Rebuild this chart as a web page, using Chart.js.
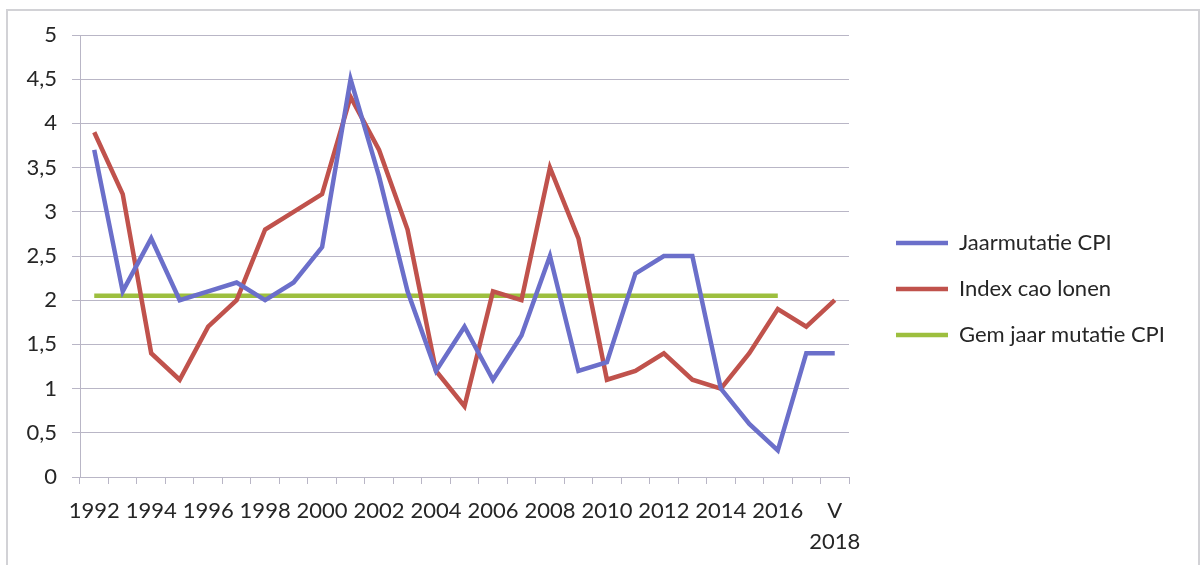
<!DOCTYPE html>
<html>
<head>
<meta charset="utf-8">
<script src="https://cdn.jsdelivr.net/npm/chart.js@4.4.1/dist/chart.umd.min.js"></script>
<style>
  html, body { margin: 0; padding: 0; background: #fff; }
  #wrap { position: relative; width: 1201px; height: 565px; overflow: hidden; }
  #frame { position: absolute; left: 6px; top: 9px; width: 1190px; height: 600px; border: 2px solid #d2d2d6; pointer-events: none; }
  canvas { position: absolute; left: 0; top: 0; }
</style>
</head>
<body>
<div id="wrap">
  <canvas id="cpiChart" width="1201" height="565"></canvas>
  <div id="frame"></div>
</div>
<script>
const years = [
  "1992", "1993", "1994", "1995", "1996", "1997", "1998", "1999", "2000",
  "2001", "2002", "2003", "2004", "2005", "2006", "2007", "2008", "2009",
  "2010", "2011", "2012", "2013", "2014", "2015", "2016", "2017", ["V", "2018"],
];

const jaarmutatieCpi = [
  3.7, 2.1, 2.7, 2.0, 2.1, 2.2, 2.0, 2.2, 2.6,
  4.5, 3.4, 2.1, 1.2, 1.7, 1.1, 1.6, 2.5, 1.2,
  1.3, 2.3, 2.5, 2.5, 1.0, 0.6, 0.3, 1.4, 1.4,
];

const indexCaoLonen = [
  3.9, 3.2, 1.4, 1.1, 1.7, 2.0, 2.8, 3.0, 3.2,
  4.3, 3.7, 2.8, 1.2, 0.8, 2.1, 2.0, 3.5, 2.7,
  1.1, 1.2, 1.4, 1.1, 1.0, 1.4, 1.9, 1.7, 2.0,
];

// average line only runs up to 2016
const gemJaarMutatieCpi = [
  2.05, 2.05, 2.05, 2.05, 2.05, 2.05, 2.05, 2.05, 2.05,
  2.05, 2.05, 2.05, 2.05, 2.05, 2.05, 2.05, 2.05, 2.05,
  2.05, 2.05, 2.05, 2.05, 2.05, 2.05, 2.05, null, null,
];

const yTicks = [0, 0.5, 1, 1.5, 2, 2.5, 3, 3.5, 4, 4.5, 5];

const fontName = "Lato, 'Open Sans', sans-serif";
const gridColor = "#b9b6c6";
const textColor = "#262626";

// put the legend a bit away from the plot, like the original
const legendShift = {
  id: "legendShift",
  afterLayout(chart) {
    const lg = chart.legend;
    lg.left = chart.chartArea.right + 23;
    lg.right = chart.width - 4;
    lg.width = lg.right - lg.left;
    lg.top -= 11;
    lg.bottom -= 11;
  },
};

const lineDataset = (label, data, color) => ({
  label: label,
  data: data,
  borderColor: color,
  backgroundColor: color,
  borderWidth: 4.5,
  pointRadius: 0,
  tension: 0,
  spanGaps: false,
});

const ctx = document.getElementById("cpiChart").getContext("2d");
const cpiChart = new Chart(ctx, {
  type: "line",
  data: {
    labels: years,
    datasets: [
      lineDataset("Jaarmutatie CPI", jaarmutatieCpi, "#6b6fca"),
      lineDataset("Index cao lonen", indexCaoLonen, "#c0524c"),
      lineDataset("Gem jaar mutatie CPI", gemJaarMutatieCpi, "#9dbf3e"),
    ],
  },
  options: {
    responsive: false,
    animation: false,
    layout: {
      padding: { left: 0, top: 35, right: 69, bottom: 0 },
    },
    plugins: {
      tooltip: { enabled: false },
      legend: {
        position: "right",
        align: "center",
        labels: {
          usePointStyle: true,
          pointStyle: "line",
          pointStyleWidth: 52,
          padding: 24,
          color: textColor,
          font: { family: fontName, size: 22 },
        },
      },
    },
    scales: {
      x: {
        offset: true,
        afterFit: (scale) => {
          scale.height = 88;
        },
        grid: {
          offset: true,
          drawOnChartArea: false,
          drawTicks: true,
          tickLength: 7,
          color: gridColor,
        },
        border: { display: true, color: gridColor, width: 1 },
        ticks: {
          autoSkip: false,
          maxRotation: 0,
          padding: 12,
          color: textColor,
          font: { family: fontName, size: 22, lineHeight: 1.4 },
          callback: function (value, index) {
            return index % 2 === 0 ? this.getLabelForValue(value) : "";
          },
        },
      },
      y: {
        min: yTicks[0],
        max: yTicks[yTicks.length - 1],
        afterFit: (scale) => {
          scale.width = 80;
        },
        afterBuildTicks: (scale) => {
          scale.ticks = yTicks.map((v) => ({ value: v }));
        },
        grid: {
          color: gridColor,
          lineWidth: 1,
          drawTicks: true,
          tickLength: 8,
        },
        border: { display: true, color: gridColor, width: 1 },
        ticks: {
          padding: 15,
          color: textColor,
          font: { family: fontName, size: 22 },
          callback: (value) => String(value).replace(".", ","),
        },
      },
    },
  },
  plugins: [legendShift],
});
</script>
</body>
</html>
